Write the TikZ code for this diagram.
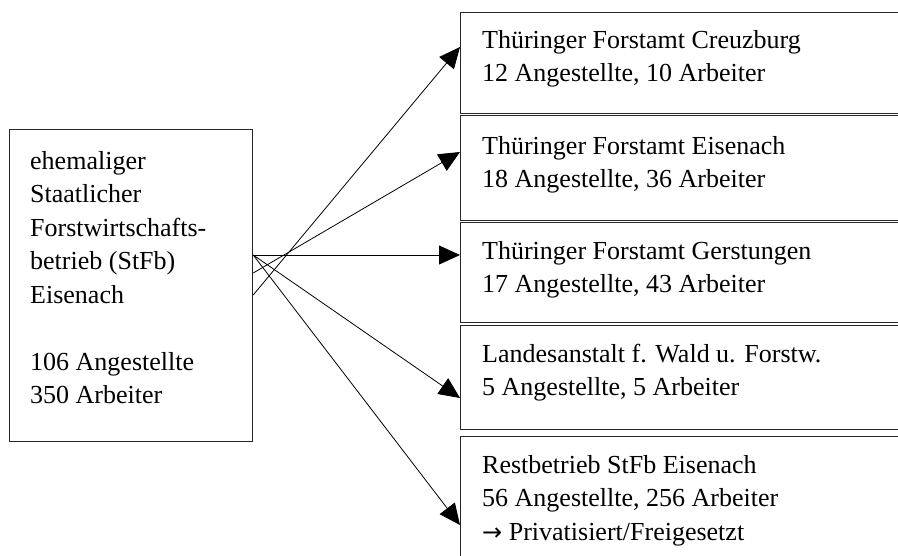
\documentclass[tikz,border=0pt]{standalone}
\usepackage{fontspec}
\setmainfont{Liberation Serif}
\newfontfamily\arrowfont{DejaVu Sans}
\usetikzlibrary{arrows.meta}
\begin{document}
\begin{tikzpicture}[x=1pt,y=-1pt,
  boxst/.style={draw=black!85, line width=1.2pt, rectangle, inner sep=0pt, anchor=north west},
  txt/.style={anchor=north west, inner sep=0pt, align=left, font=\fontsize{26}{33.5}\selectfont},
  conn/.style={line width=0.8pt, -{Triangle[length=21pt,width=19pt]}}]
\useasboundingbox (0,0) rectangle (898,556);
\clip (0,0) rectangle (898,556);
% boxes
\node[boxst, minimum width=243pt, minimum height=312pt] (L) at (9,129) {};
\node[boxst, minimum width=480pt, minimum height=101pt] (B1) at (460,12) {};
\node[boxst, minimum width=480pt, minimum height=105pt] (B2) at (460,115) {};
\node[boxst, minimum width=480pt, minimum height=100pt] (B3) at (460,222) {};
\node[boxst, minimum width=480pt, minimum height=104pt] (B4) at (460,325) {};
\node[boxst, minimum width=480pt, minimum height=160pt] (B5) at (460,436) {};
% texts
\node[txt] (tL) at (30,145) {\rule{0pt}{24pt}ehemaliger\\Staatlicher\\Forstwirtschafts-\\betrieb (StFb)\\Eisenach\\[33.5pt]106 Angestellte\\350 Arbeiter};
\node[txt] (t1) at (482,24) {\rule{0pt}{24pt}Thüringer Forstamt Creuzburg\\12 Angestellte, 10 Arbeiter};
\node[txt] (t2) at (482,130) {\rule{0pt}{24pt}Thüringer Forstamt Eisenach\\18 Angestellte, 36 Arbeiter};
\node[txt] (t3) at (482,235) {\rule{0pt}{24pt}Thüringer Forstamt Gerstungen\\17 Angestellte, 43 Arbeiter};
\node[txt] (t4) at (482,338) {\rule{0pt}{24pt}Landesanstalt f. Wald u. Forstw.\\5 Angestellte, 5 Arbeiter};
\node[txt] (t5) at (482,449) {\rule{0pt}{24pt}Restbetrieb StFb Eisenach\\56 Angestellte, 256 Arbeiter\\{\arrowfont\fontsize{24}{33.5}\selectfont →} Privatisiert/Freigesetzt};
% connectors
\draw[conn] (L.east |- 0,295) -- (B1.west |- 0,47);
\draw[conn] (L.east |- 0,273) -- (B2.west |- 0,152);
\draw[conn] (L.east |- 0,255) -- (B3.west |- 0,255);
\draw[conn] (L.east |- 0,255) -- (B4.west |- 0,398);
\draw[conn] (L.east |- 0,255) -- (B5.west |- 0,525);
\end{tikzpicture}
\end{document}
